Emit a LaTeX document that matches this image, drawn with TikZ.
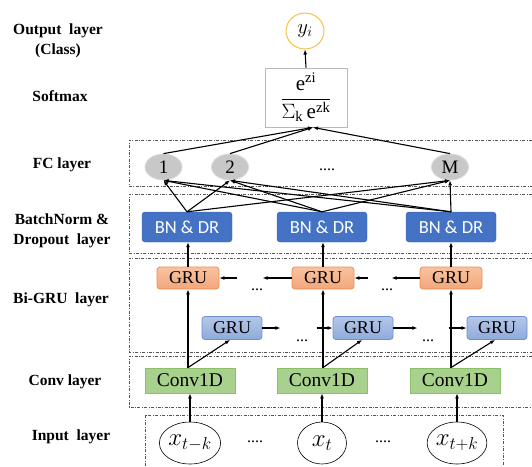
\documentclass[tikz,border=0pt]{standalone}
\usepackage{fontspec}
\setmainfont{Liberation Serif}
\newfontfamily\calfont{Carlito}
\usetikzlibrary{shapes.geometric,arrows.meta,calc}
\definecolor{bnblue}{HTML}{4472C4}
\definecolor{bnedge}{HTML}{3C66B4}
\definecolor{ogtop}{HTML}{F8C3A0}
\definecolor{ogbot}{HTML}{F2A77A}
\definecolor{ogedge}{HTML}{F08C50}
\definecolor{bgtop}{HTML}{B4C7E7}
\definecolor{bgbot}{HTML}{8FAADC}
\definecolor{bgedge}{HTML}{6F8FD0}
\definecolor{convgreen}{HTML}{A9D18E}
\definecolor{convedge}{HTML}{8CC068}
\definecolor{fcgray}{HTML}{C8C8C8}
\definecolor{fcedge}{HTML}{DADADA}
\definecolor{gold}{HTML}{F5C242}
\definecolor{layeredge}{HTML}{555555}
\begin{document}
\begin{tikzpicture}[x=1pt,y=-1pt,
  layerbox/.style={draw=layeredge, line width=0.6pt, dash pattern=on 3pt off 1.5pt on 0.8pt off 1.5pt},
  lab/.style={align=center, font=\bfseries\fontsize{15.5}{20}\selectfont, inner sep=0pt},
  fcball/.style={ellipse, minimum width=37pt, minimum height=26pt, inner sep=0pt, fill=fcgray, draw=fcedge, line width=0.8pt, font=\fontsize{19}{19}\selectfont},
  bnbox/.style={rectangle, rounded corners=3pt, fill=bnblue, draw=bnedge, minimum width=90pt, minimum height=30pt, inner sep=0pt, text=white, font=\calfont\fontsize{18.5}{18.5}\selectfont},
  ogru/.style={rectangle, rounded corners=3pt, top color=ogtop, bottom color=ogbot, draw=ogedge, line width=0.8pt, minimum width=62pt, minimum height=22pt, inner sep=0pt, font=\fontsize{18}{18}\selectfont},
  bgru/.style={rectangle, rounded corners=3pt, top color=bgtop, bottom color=bgbot, draw=bgedge, line width=0.8pt, minimum width=60pt, minimum height=23pt, inner sep=0pt, font=\fontsize{18}{18}\selectfont},
  convbox/.style={rectangle, fill=convgreen, draw=convedge, line width=0.8pt, minimum width=90pt, minimum height=25pt, inner sep=0pt, font=\fontsize{19.5}{19.5}\selectfont},
  inp/.style={ellipse, draw=black, line width=0.6pt, fill=white, minimum width=49pt, minimum height=42pt, inner sep=0pt, font=\fontsize{24}{24}\selectfont},
  dots/.style={inner sep=0pt, font=\fontsize{16}{16}\selectfont},
  arr/.style={-{Latex[length=5pt,width=4pt]}, line width=1.1pt},
  ln/.style={line width=1.1pt}
]
\useasboundingbox (0,0) rectangle (532,466);

% layer boxes
\draw[layerbox] (532,140) -- (129,140) -- (129,186) -- (532,186);
\draw[layerbox] (532,194) -- (129,194) -- (129,253) -- (532,253);
\draw[layerbox] (532,258) -- (129,258) -- (129,352) -- (532,352);
\draw[layerbox] (532,356) -- (129,356) -- (129,407) -- (532,407);
\draw[layerbox] (145,466) -- (145,415) -- (503,415) -- (503,466);

% labels
\node[lab] (lout) at (58,41) {Output\ \ layer\\(Class)};
\node[lab] (lsm) at (60,96) {Softmax};
\node[lab] (lfc) at (62,165) {FC layer};
\node[lab] (lbn) at (62,231) {BatchNorm \&\\Dropout\ \ layer};
\node[lab] (lgru) at (61,300) {Bi-GRU\ \ layer};
\node[lab] (lconv) at (65,382) {Conv layer};
\node[lab] (linp) at (71,437) {Input\ \ layer};

% output and softmax
\node[ellipse, draw=gold, line width=1pt, minimum width=38pt, minimum height=36pt, inner sep=0pt, font=\fontsize{22}{22}\selectfont] (y) at (305,31) {$y_i$};
\node[rectangle, draw=gray!55, line width=0.8pt, minimum width=82pt, minimum height=59pt, inner sep=0pt, font=\fontsize{21}{21}\selectfont] (sm) at (306,97.5)
  {$\displaystyle\frac{\mathrm{e}^{\mathrm{zi}}}{\Sigma_{\mathrm{k}}\,\mathrm{e}^{\mathrm{zk}}}$};
\draw[arr] (sm.north) -- (y.south);
\coordinate (smin) at ($(sm.south)+(7,0)$);

% FC layer
\node[fcball] (f1) at (163.5,167) {1};
\node[fcball] (f2) at (230,167) {2};
\node[fcball] (fM) at (450,167) {M};
\node[dots] (fdots) at (327,170) {....};
\draw[arr] (f1.north) -- (smin);
\draw[arr] (f2.north) -- (smin);
\draw[arr] (fM.north) -- (smin);

% BN layer
\node[bnbox] (bn1) at (187,227) {BN \& DR};
\node[bnbox] (bn2) at (322,227) {BN \& DR};
\node[bnbox] (bn3) at (451,227) {BN \& DR};
\foreach \b in {bn1,bn2,bn3}{
  \foreach \f in {f1,f2,fM}{
    \draw[arr] (\b.north) -- (\f.south);
  }
}

% Bi-GRU layer
\node[ogru] (o1) at (188,278) {GRU};
\node[ogru] (o2) at (323,278) {GRU};
\node[ogru] (o3) at (451,278) {GRU};
\node[bgru] (b1) at (232,328) {GRU};
\node[bgru] (b2) at (363,328) {GRU};
\node[bgru] (b3) at (497,328) {GRU};

\coordinate (oa) at ($(o1.east)+(18,0)$);
\coordinate (ob) at ($(o2.west)+(-29,0)$);
\coordinate (oc) at ($(o2.east)+(14,0)$);
\coordinate (od) at ($(o3.west)+(-28,0)$);
\draw[arr] (oa) -- (o1.east);
\draw[arr] (o2.west) -- (ob);
\draw[arr] (oc) -- (o2.east);
\draw[arr] (o3.west) -- (od);

\coordinate (ba) at ($(b1.east)+(18,0)$);
\coordinate (bb) at ($(b2.west)+(-16,0)$);
\coordinate (bc) at ($(b2.east)+(24,0)$);
\coordinate (bd) at ($(b3.west)+(-18,0)$);
\draw[arr] (b1.east) -- (ba);
\draw[arr] (bb) -- (b2.west);
\draw[arr] (b2.east) -- (bc);
\draw[arr] (bd) -- (b3.west);

\node[dots] (od1) at (257,290) {...};
\node[dots] (od2) at (387,290) {...};
\node[dots] (bd1) at (302,341) {...};
\node[dots] (bd2) at (428,341) {...};

\draw[arr] (o1.north) -- (o1.north |- bn1.south);
\draw[arr] (o2.north) -- (o2.north |- bn2.south);
\draw[arr] (o3.north) -- (o3.north |- bn3.south);

% Conv layer
\node[convbox] (c1) at (190,380.5) {Conv1D};
\node[convbox] (c2) at (322,380.5) {Conv1D};
\node[convbox] (c3) at (455,380.5) {Conv1D};

\coordinate (t1) at (o1.south |- c1.north);
\coordinate (t2) at (o2.south |- c2.north);
\coordinate (t3) at (o3.south |- c3.north);
\draw[arr] (t1) -- (o1.south);
\draw[arr] (t2) -- (o2.south);
\draw[arr] (t3) -- (o3.south);
\draw[arr] (t1) -- ($(b1.south)+(-2,0)$);
\draw[arr] (t2) -- ($(b2.south)+(-1,0)$);
\draw[arr] (t3) -- ($(b3.south)+(-2,0)$);

% Input layer
\node[inp] (x1) at (190,443) {$x_{t-k}$};
\node[inp] (x2) at (322,443) {$x_{t}$};
\node[inp] (x3) at (457,443) {$x_{t+k}$};
\node[dots] (xd1) at (255,442) {....};
\node[dots] (xd2) at (383,442) {....};
\draw[arr] (x1.north) -- (c1.south);
\draw[arr] (x2.north) -- (c2.south);
\draw[arr] (x3.north) -- (x3.north |- c3.south);
\end{tikzpicture}
\end{document}
